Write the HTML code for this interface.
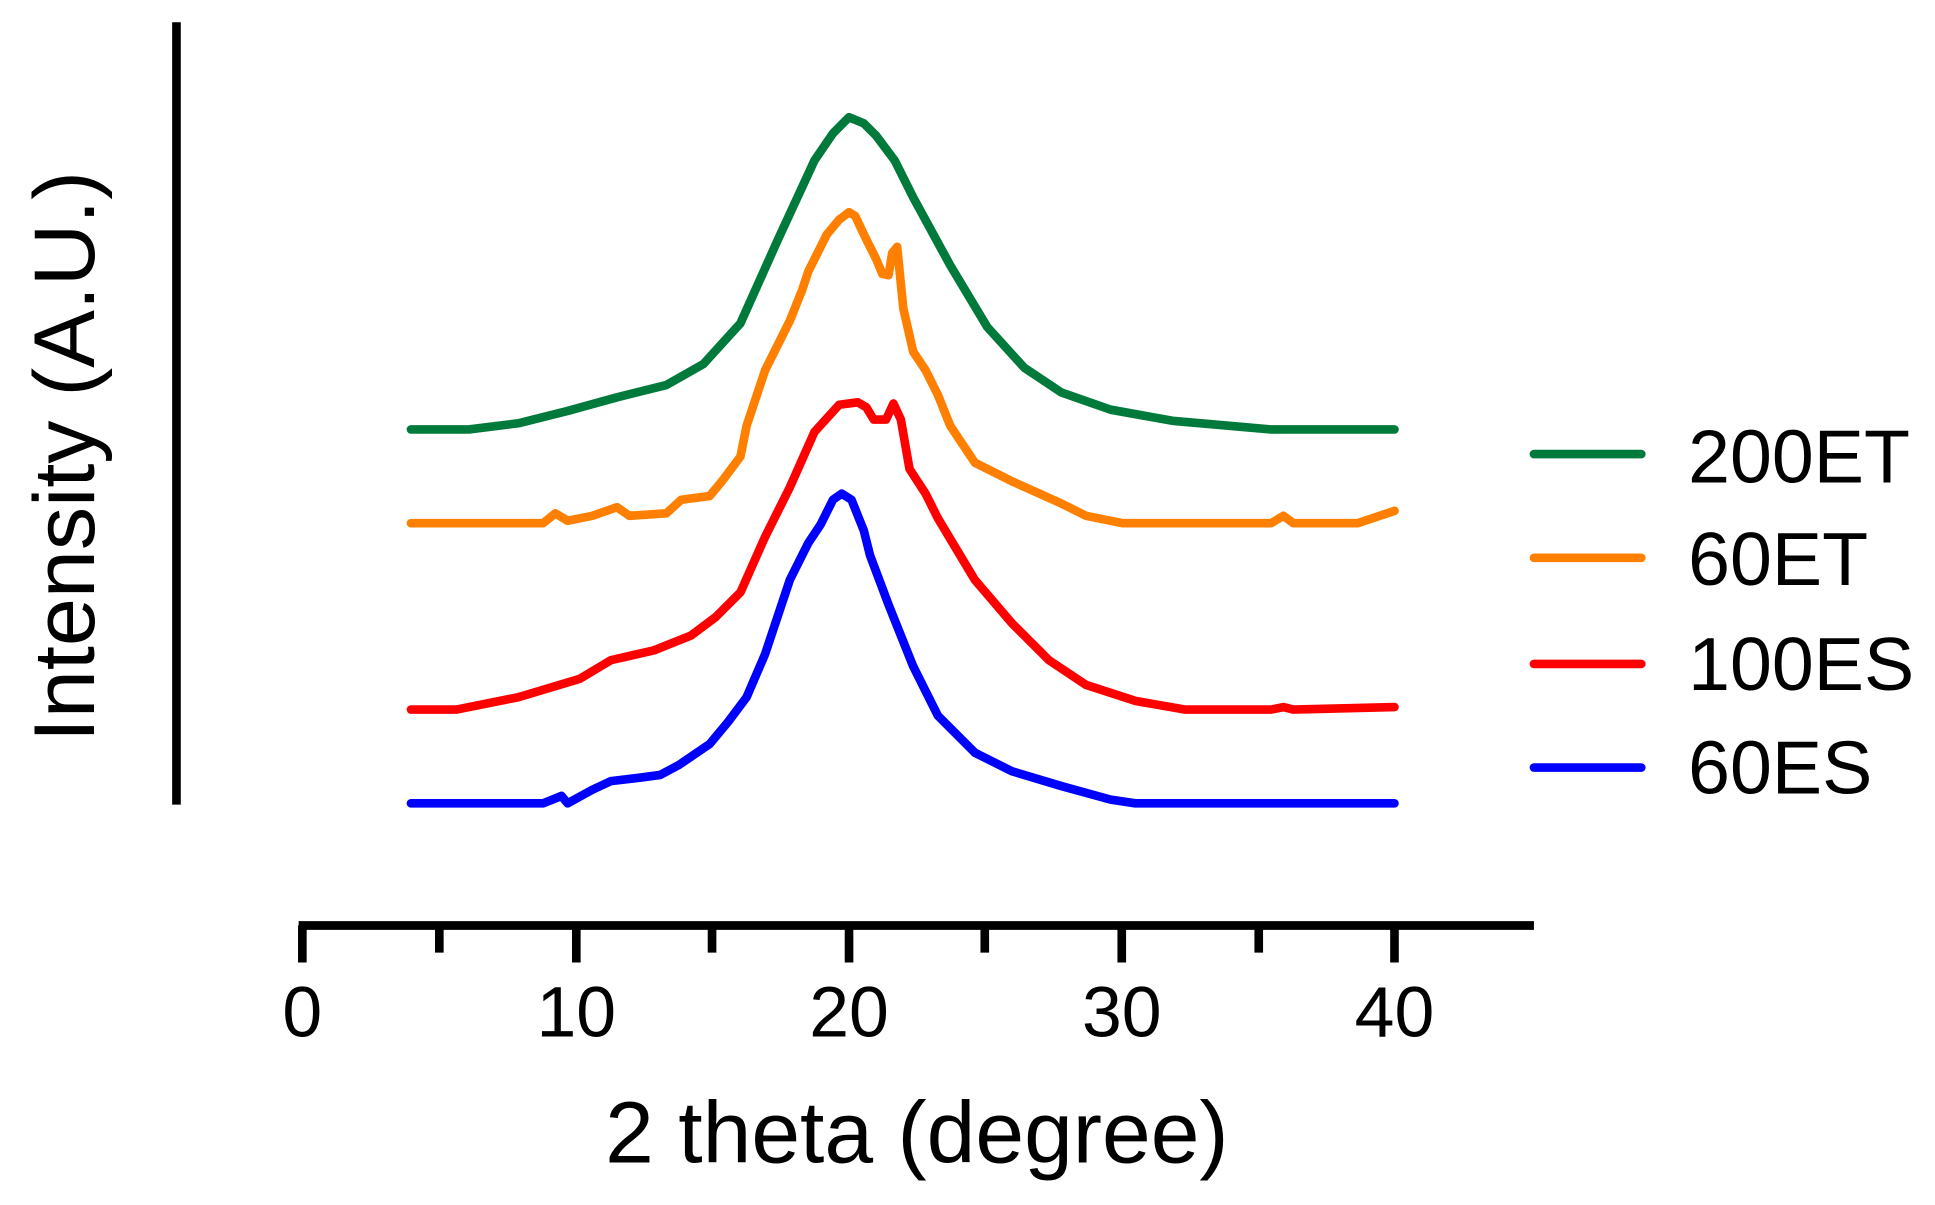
<!DOCTYPE html>
<html><head><style>html,body{margin:0;padding:0;background:#fff}svg{display:block}</style></head>
<body>
<svg width="1935" height="1205" viewBox="0 0 1568 976.5" preserveAspectRatio="none" xmlns="http://www.w3.org/2000/svg" font-family="Liberation Sans, Arial, sans-serif">
<line x1="143" y1="18" x2="143" y2="652" stroke="#000" stroke-width="7"/>
<line x1="242" y1="750" x2="1243" y2="750" stroke="#000" stroke-width="7"/>
<g stroke="#000" stroke-width="7">
<line x1="245" y1="750" x2="245" y2="780"/><line x1="467" y1="750" x2="467" y2="780"/><line x1="688" y1="750" x2="688" y2="780"/><line x1="909" y1="750" x2="909" y2="780"/><line x1="1130" y1="750" x2="1130" y2="780"/>
<line x1="356" y1="750" x2="356" y2="772"/><line x1="577" y1="750" x2="577" y2="772"/><line x1="798" y1="750" x2="798" y2="772"/><line x1="1020" y1="750" x2="1020" y2="772"/>
</g>
<g font-size="58" text-anchor="middle" fill="#000">
<text x="245" y="840">0</text><text x="467" y="840">10</text><text x="688" y="840">20</text><text x="909" y="840">30</text><text x="1130" y="840">40</text>
</g>
<text x="743" y="942" font-size="71" text-anchor="middle">2 theta (degree)</text>
<text transform="translate(76,370) rotate(-90)" font-size="70" text-anchor="middle">Intensity (A.U.)</text>
<g fill="none" stroke-width="7" stroke-linejoin="round" stroke-linecap="round">
<polyline stroke="#007a3a" points="333,348 380,348 420,343 460,333 500,322 540,312 570,295 600,262 630,195 660,130 675,108 688,95 700,100 710,110 725,130 740,160 770,215 800,265 830,298 860,318 900,332 950,341 1030,348 1130,348"/>
<polyline stroke="#ff8000" points="333,424 440,424 450,416 460,422 480,418 500,411 510,418 540,416 552,405 575,402 585,390 600,370 605,345 620,300 640,260 650,235 655,220 670,190 680,178 688,172 693,175 700,190 710,210 715,222 720,223 723,205 727,200 732,250 740,285 750,300 760,320 770,345 790,375 820,390 860,408 880,418 910,424 1030,424 1040,418 1048,424 1100,424 1130,414"/>
<polyline stroke="#ff0000" points="333,575 370,575 420,565 470,550 495,535 530,527 560,515 580,500 600,480 620,435 640,395 660,350 680,328 695,326 702,330 708,340 718,340 724,327 730,340 737,380 750,400 760,420 790,470 820,505 850,535 880,555 920,568 960,575 1030,575 1040,573 1048,575 1130,573"/>
<polyline stroke="#0000ff" points="333,651 440,651 455,645 460,651 480,640 495,633 520,630 535,628 550,620 575,603 590,585 605,565 620,530 630,500 640,470 655,440 665,425 675,405 682,400 690,405 700,430 705,450 720,490 740,540 750,560 760,580 790,610 820,625 860,637 900,648 920,651 1130,651"/>
</g>
<g stroke-width="7" stroke-linecap="round">
<line x1="1243" y1="368" x2="1330" y2="368" stroke="#007a3a"/>
<line x1="1243" y1="452" x2="1330" y2="452" stroke="#ff8000"/>
<line x1="1243" y1="538" x2="1330" y2="538" stroke="#ff0000"/>
<line x1="1243" y1="622" x2="1330" y2="622" stroke="#0000ff"/>
</g>
<g font-size="61" fill="#000">
<text x="1368" y="391">200ET</text><text x="1368" y="474">60ET</text><text x="1368" y="559">100ES</text><text x="1368" y="643">60ES</text>
</g>
</svg>
</body></html>
